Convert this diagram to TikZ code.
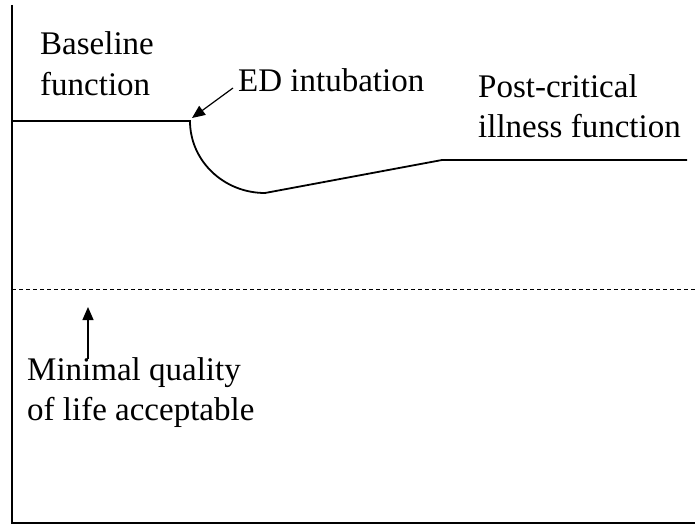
\documentclass[tikz,border=0pt]{standalone}
\usepackage{fontspec}
\setmainfont{Liberation Serif}
\usetikzlibrary{arrows.meta}
\begin{document}
\begin{tikzpicture}[x=1pt,y=-1pt,
  lbl/.style={anchor=base west,inner sep=0pt,align=left,font=\fontsize{33}{40}\selectfont},
  axis/.style={line width=2.2pt},
  curve/.style={line width=1.8pt},
  threshold/.style={line width=1pt,dash pattern=on 4pt off 3pt},
  pointer/.style={line width=1.2pt,-{Triangle[length=13pt,width=11pt]}}]
\useasboundingbox (0,0) rectangle (695,527);
% axes
\draw[axis] (12,5) -- (12,523) -- (695,523);
% function curve
\draw[curve] (12,121) -- (190,121) arc[start angle=180,end angle=90,x radius=75,y radius=72] -- (442,160) -- (687,160);
\coordinate (drop) at (192,118);
% dashed threshold
\draw[threshold] (12,289) -- (695,289);
\coordinate (thr) at (88,307);
% labels (base anchor = baseline of last line)
\node[lbl] (base) at (40,95) {Baseline\\function};
\node[lbl] (ed) at (238,91) {ED intubation};
\node[lbl] (post) at (478,137) {Post-critical\\illness function};
\node[lbl] (min) at (27,420) {Minimal quality\\of life acceptable};
% pointers
\draw[pointer] (ed.base west) ++(-5,-3) coordinate (edtail) -- (drop);
\draw[pointer] (88,359) coordinate (mintail) -- (thr);
\end{tikzpicture}
\end{document}
